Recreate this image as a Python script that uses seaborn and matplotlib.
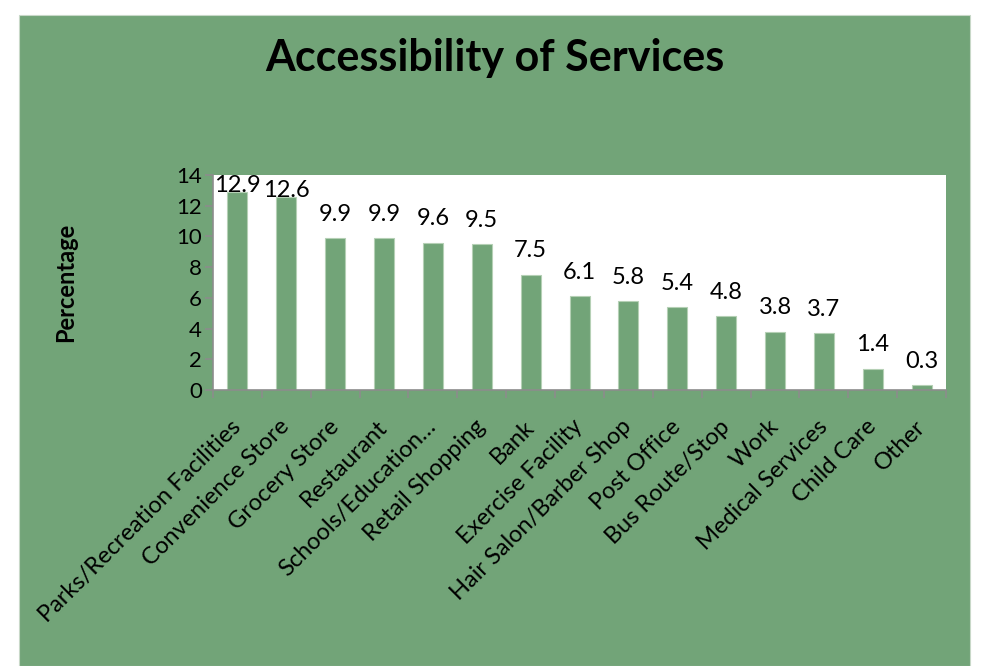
import seaborn as sns
import pandas as pd
from matplotlib import pyplot as plt
from matplotlib.patches import Rectangle

services = ["Parks/Recreation Facilities", "Convenience Store", "Grocery Store",
            "Restaurant", "Schools/Education\u2026", "Retail Shopping", "Bank",
            "Exercise Facility", "Hair Salon/Barber Shop", "Post Office",
            "Bus Route/Stop", "Work", "Medical Services", "Child Care", "Other"]
percentage = [12.9, 12.6, 9.9, 9.9, 9.6, 9.5, 7.5, 6.1, 5.8, 5.4, 4.8, 3.8, 3.7, 1.4, 0.3]
y_ticks = [0, 2, 4, 6, 8, 10, 12, 14]

GREEN = "#72a478"

sns.set_style("white")
plt.rcParams["font.family"] = ["Lato", "DejaVu Sans"]
plt.rcParams["text.color"] = "black"
plt.rcParams["xtick.color"] = "black"
plt.rcParams["ytick.color"] = "black"

fig = plt.figure(figsize=(9.83, 6.66), dpi=100, facecolor="white")
fig.patches.append(Rectangle((0.0193, 0.0), 0.9677, 0.977, transform=fig.transFigure,
                             facecolor=GREEN, edgecolor="#c8d8c8", linewidth=0.8, zorder=-5))
ax = fig.add_axes([0.2167, 0.4144, 0.7457, 0.3228])
ax.set_facecolor("white")

df = pd.DataFrame({"service": services, "pct": percentage})
sns.barplot(data=df, x="service", y="pct", color=GREEN, saturation=1, width=0.41,
            edgecolor="#b5d0b5", linewidth=0.8, ax=ax)

ax.set_ylim(0, 14)
ax.set_yticks(y_ticks)
ax.set_xlim(-0.5, len(services) - 0.5)
ax.set_xticks(range(len(services)))
ax.set_xticklabels(services, rotation=45, ha="right", va="center", rotation_mode="anchor")
ax.set_xticks([i - 0.5 for i in range(len(services) + 1)], minor=True)
ax.tick_params(axis="x", which="major", length=0, pad=24, labelsize=17, labelcolor="black")
ax.tick_params(axis="x", which="minor", length=6, color="#8c8c8c", width=1.2, direction="out")
ax.tick_params(axis="y", length=6, color="#8c8c8c", width=1.2, direction="out", labelsize=16,
               pad=2, labelcolor="black")
ax.tick_params(axis="both", bottom=True, left=True, which="both")
for side in ["top", "right"]:
    ax.spines[side].set_visible(False)
for side in ["left", "bottom"]:
    ax.spines[side].set_color("#8c8c8c")
    ax.spines[side].set_linewidth(1.2)

# value labels, pushed down onto the bar when they would leave the plot area
for i, v in enumerate(percentage):
    off = 12.5 if v + 2.4 < 14 else 0
    ax.annotate(f"{v:.1f}", xy=(i, v), xytext=(0, off), textcoords="offset points",
                ha="center", va="baseline", fontsize=17, color="black")

ax.set_xlabel("")
ax.set_ylabel("")
fig.text(0.067, 0.4144 + 0.3228 / 2, "Percentage", rotation=90, ha="center", va="center",
         fontsize=17, fontweight="bold")
fig.text(0.503, 0.913, "Accessibility of Services", ha="center", va="center",
         fontsize=31, fontweight="bold")

fig.savefig("out.png", dpi=100, facecolor=fig.get_facecolor())
